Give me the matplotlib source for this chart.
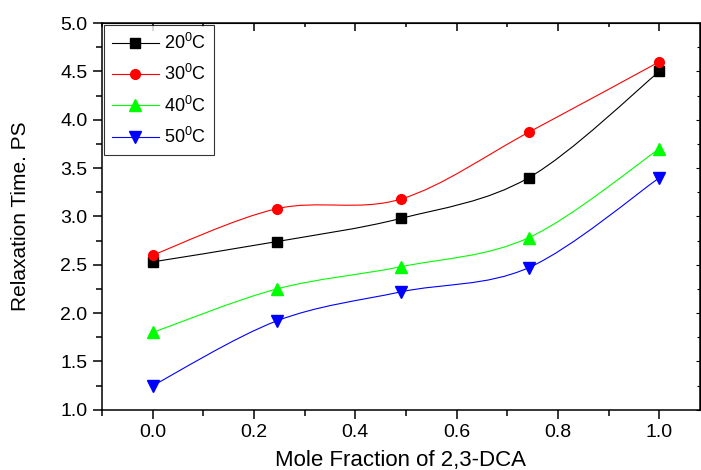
import matplotlib

matplotlib.use("Agg")
import matplotlib.pyplot as plt
import numpy as np
from matplotlib.path import Path
from matplotlib.patches import PathPatch
from matplotlib.ticker import MultipleLocator

plt.rcParams["font.family"] = ["Liberation Sans", "DejaVu Sans"]
plt.rcParams["mathtext.fontset"] = "custom"
plt.rcParams["mathtext.rm"] = "Liberation Sans"

mole_fraction = [0.0, 0.245, 0.49, 0.742, 1.0]
t20 = [2.53, 2.74, 2.98, 3.40, 4.50]
t30 = [2.60, 3.08, 3.18, 3.87, 4.60]
t40 = [1.80, 2.25, 2.48, 2.78, 3.70]
t50 = [1.25, 1.92, 2.22, 2.47, 3.40]
labels = ["20$^{0}$C", "30$^{0}$C", "40$^{0}$C", "50$^{0}$C"]


def smooth_path(x, y):
    # Catmull-Rom as cubic Bezier segments, drawn by matplotlib
    x = np.asarray(x, float); y = np.asarray(y, float)
    pts = np.column_stack([x, y])
    verts = [pts[0]]; codes = [Path.MOVETO]
    n = len(pts)
    for i in range(n - 1):
        p0 = pts[max(i - 1, 0)]; p1 = pts[i]
        p2 = pts[i + 1]; p3 = pts[min(i + 2, n - 1)]
        c1 = p1 + (p2 - p0) / 6.0
        c2 = p2 - (p3 - p1) / 6.0
        verts += [c1, c2, p2]; codes += [Path.CURVE4] * 3
    return Path(verts, codes)


fig = plt.figure(figsize=(7.01, 4.70), dpi=100)
ax = fig.add_axes([0.1455, 0.128, 0.853, 0.823])

series = [
    (t20, "black", "s", 7),
    (t30, "red", "o", 7),
    (t40, "#00ff00", "^", 8.5),
    (t50, "blue", "v", 8.5),
]
for (vals, c, mk, ms), lab in zip(series, labels):
    ax.add_patch(PathPatch(smooth_path(mole_fraction, vals), fc="none", ec=c, lw=0.8))
    ax.plot(mole_fraction, vals, ls="none", marker=mk, ms=ms, color=c, mec=c)
    ax.plot([], [], color=c, lw=0.8, marker=mk, ms=ms, label=lab)

ax.set_xlim(-0.1, 1.08)
ax.set_ylim(1.0, 5.0)
ax.xaxis.set_major_locator(MultipleLocator(0.2))
ax.xaxis.set_minor_locator(MultipleLocator(0.1))
ax.yaxis.set_major_locator(MultipleLocator(0.5))
ax.yaxis.set_minor_locator(MultipleLocator(0.25))
ax.tick_params(which="both", direction="out", top=False, right=False, labelsize=14, width=1.1)
ax.tick_params(which="major", length=6.5, pad=4)
ax.tick_params(which="minor", length=4)
for s in ax.spines.values():
    s.set_linewidth(1.1)

# inward ticks on top and right
sec_x = ax.secondary_xaxis("top")
sec_x.xaxis.set_major_locator(MultipleLocator(0.2))
sec_x.xaxis.set_minor_locator(MultipleLocator(0.1))
sec_x.tick_params(which="both", direction="in", labeltop=False, width=1.1)
sec_x.tick_params(which="major", length=6)
sec_x.tick_params(which="minor", length=3)
sec_y = ax.secondary_yaxis("right")
sec_y.yaxis.set_major_locator(MultipleLocator(0.5))
sec_y.yaxis.set_minor_locator(MultipleLocator(0.25))
sec_y.tick_params(which="both", direction="in", labelright=False, width=0.8)
sec_y.tick_params(which="major", length=3)
sec_y.tick_params(which="minor", length=2)

ax.set_xlabel("Mole Fraction of 2,3-DCA", fontsize=16, labelpad=6)
ax.set_ylabel("Relaxation Time. PS", fontsize=15, labelpad=22)

leg = ax.legend(loc="upper left", fontsize=13, frameon=True, fancybox=False,
                edgecolor="black", borderaxespad=0.1, handlelength=2.6,
                labelspacing=0.62, borderpad=0.45, handletextpad=0.3)
leg.get_frame().set_linewidth(0.8)

fig.savefig("out.png", dpi=100)
